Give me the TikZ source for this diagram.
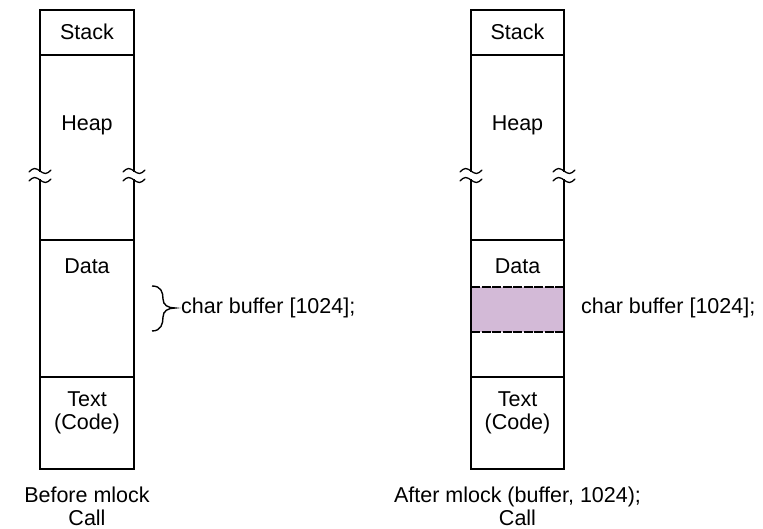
\documentclass[tikz,border=0pt]{standalone}
\usepackage{fontspec}
\setmainfont{Liberation Sans}
\usetikzlibrary{positioning}
\definecolor{lockfill}{RGB}{211,186,215}
\tikzset{
  mem/.style={line width=2pt},
  lbl/.style={font=\fontsize{21.5}{23}\selectfont, align=center, inner sep=0pt},
  brk/.style={line width=1.3pt, line cap=round},
}
% break symbol on a column edge: x, y
\newcommand{\memgap}[2]{
  \fill[white] (#1-3,#2+1) rectangle (#1+3,#2+8);
  \draw[brk] (#1-11,#2+1) sin (#1-5.5,#2-2.5) cos (#1,#2) sin (#1+5.5,#2+2.5) cos (#1+11,#2-1);
  \draw[brk] (#1-11,#2+10) sin (#1-5.5,#2+6.5) cos (#1,#2+9) sin (#1+5.5,#2+11.5) cos (#1+11,#2+8);
}
\begin{document}
\begin{tikzpicture}[x=1pt, y=-1pt]
  \useasboundingbox (0,0) rectangle (763,529);
  % before
  \begin{scope}[shift={(40,0)}]
    \draw[mem] (0,10) rectangle (94,469);
    \draw[mem] (0,55) -- (94,55);
    \draw[mem] (0,240) -- (94,240);
    \draw[mem] (0,377) -- (94,377);
    \memgap{0}{171}
    \memgap{94}{171}
    \node[lbl] (stackA) at (47,32) {Stack};
    \node[lbl] (heapA) at (47,125) {Heap};
    \node[lbl] (dataA) at (47,266) {Data};
    \node[lbl] (textA) at (47,413) {Text\\(Code)};
    \node[lbl] (callA) at (47,506) {Before mlock\\Call};
    \draw[line width=1.4pt] (112,286) .. controls (121,286) and (123,292) .. (123,299)
      .. controls (123,305) and (128,308) .. (135,308)
      .. controls (128,308) and (123,311) .. (123,317)
      .. controls (123,324) and (121,331) .. (112,331);
    \node[lbl, anchor=west] (bufA) at (141,308) {char buffer [1024];};
  \end{scope}
  % after
  \begin{scope}[shift={(471,0)}]
    \fill[lockfill] (0,287) rectangle (93,332);
    \draw[mem] (0,10) rectangle (93,469);
    \draw[mem] (0,55) -- (93,55);
    \draw[mem] (0,240) -- (93,240);
    \draw[mem, dash pattern=on 9pt off 1.5pt] (0,287) -- (93,287);
    \draw[mem, dash pattern=on 9pt off 1.5pt] (0,332) -- (93,332);
    \draw[mem] (0,377) -- (93,377);
    \memgap{0}{171}
    \memgap{93}{171}
    \node[lbl] (stackB) at (46.5,32) {Stack};
    \node[lbl] (heapB) at (46.5,125) {Heap};
    \node[lbl] (dataB) at (46.5,266) {Data};
    \node[lbl] (textB) at (46.5,413) {Text\\(Code)};
    \node[lbl] (callB) at (46.5,506) {After mlock (buffer, 1024);\\Call};
    \node[lbl, anchor=west] (bufB) at (110,308) {char buffer [1024];};
  \end{scope}
\end{tikzpicture}
\end{document}
